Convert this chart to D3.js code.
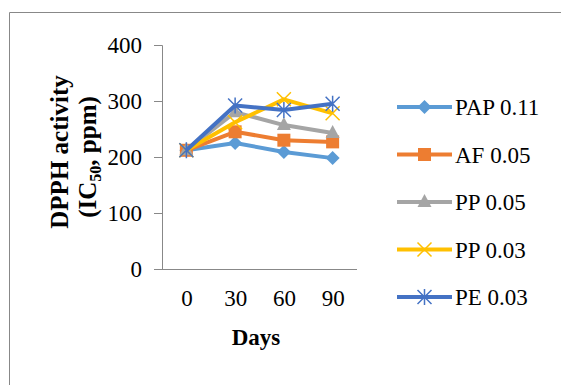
<!DOCTYPE html>
<html><head><meta charset="utf-8">
<script src="https://cdn.jsdelivr.net/npm/d3@7/dist/d3.min.js"></script>
<style>body{margin:0;background:#fff}svg{display:block}svg text{font-family:"Liberation Serif","Times New Roman",serif}</style>
</head><body>
<svg id="c" width="561" height="385"></svg>
<script>
const categories = ["0", "30", "60", "90"];
const yTicks = [0, 100, 200, 300, 400];
const seriesNames = ["PAP 0.11", "AF 0.05", "PP 0.05", "PP 0.03", "PE 0.03"];
const papValues = [212, 225, 209, 198];
const afValues = [212, 245, 230, 227];
const pp05Values = [212, 280, 257, 243];
const pp03Values = [212, 262, 303, 278];
const peValues = [212, 292, 284, 295];
const colors = ["#5B9BD5", "#ED7D31", "#A5A5A5", "#FFC000", "#4472C4"];
const markers = ["diamond", "square", "triangle", "x", "star"];

(function () {
const series = seriesNames.map((n, i) => ({name: n, values: [papValues, afValues, pp05Values, pp03Values, peValues][i], color: colors[i], marker: markers[i]}));

const svg = d3.select("#c");

// frame
svg.append("path").attr("d", "M9.5,385 L9.5,12.5 L561,12.5").attr("fill", "none").attr("stroke", "#888").attr("stroke-width", 1);

const pLeft = 162, pRight = 357, pTop = 45, pBottom = 269;
const x = d3.scalePoint().domain(categories).range([pLeft, pRight]).padding(0.5);
const y = d3.scaleLinear().domain([0, 400]).range([pBottom, pTop]);

const yAxis = svg.append("g").attr("transform", `translate(${pLeft},0)`)
  .call(d3.axisLeft(y).tickValues(yTicks).tickSize(8).tickPadding(12));
yAxis.attr("font-family", null);
yAxis.select(".domain").attr("stroke", "#888").attr("d", `M-8,${pTop}.5H0.5V${pBottom}.5`);
yAxis.selectAll(".tick line").attr("stroke", "#888");
yAxis.selectAll("text").attr("font-size", 23).attr("fill", "#000");

const xAxis = svg.append("g").attr("transform", `translate(0,${pBottom})`)
  .call(d3.axisBottom(x).tickSize(0).tickPadding(21));
xAxis.attr("font-family", null);
xAxis.select(".domain").attr("stroke", "#888").attr("d", `M${pLeft},0.5H${pRight}`);
xAxis.selectAll("text").attr("font-size", 23).attr("fill", "#000");

// axis titles
svg.append("text").attr("transform", "translate(68,152) rotate(-90)").attr("text-anchor", "middle")
  .attr("font-weight", "bold").attr("font-size", 25).text("DPPH activity");
const t2 = svg.append("text").attr("transform", "translate(96,157) rotate(-90)").attr("text-anchor", "middle")
  .attr("font-weight", "bold").attr("font-size", 25);
t2.append("tspan").text("(IC");
t2.append("tspan").attr("font-size", 16).attr("dy", 5).text("50");
t2.append("tspan").attr("dy", -5).text(", ppm)");
svg.append("text").attr("x", 256).attr("y", 345).attr("text-anchor", "middle")
  .attr("font-weight", "bold").attr("font-size", 23).text("Days");

function drawMarker(g, type, color, cx, cy) {
  if (type === "diamond") {
    g.append("path").attr("d", `M${cx},${cy-7}L${cx+7},${cy}L${cx},${cy+7}L${cx-7},${cy}Z`).attr("fill", color);
  } else if (type === "square") {
    g.append("rect").attr("x", cx-6.5).attr("y", cy-6.5).attr("width", 13).attr("height", 13).attr("fill", color);
  } else if (type === "triangle") {
    g.append("path").attr("d", `M${cx},${cy-8}L${cx+7},${cy+5}L${cx-7},${cy+5}Z`).attr("fill", color);
  } else if (type === "x") {
    g.append("path").attr("d", `M${cx-7},${cy-7}L${cx+7},${cy+7}M${cx+7},${cy-7}L${cx-7},${cy+7}`).attr("stroke", color).attr("stroke-width", 1.5);
  } else {
    g.append("path").attr("d", `M${cx-7},${cy-7}L${cx+7},${cy+7}M${cx+7},${cy-7}L${cx-7},${cy+7}M${cx},${cy-8}L${cx},${cy+8}`).attr("stroke", color).attr("stroke-width", 1.5);
  }
}

const line = d3.line().x((d, i) => x(categories[i])).y(d => y(d));
series.forEach(s => {
  const g = svg.append("g");
  g.append("path").attr("d", line(s.values)).attr("fill", "none").attr("stroke", s.color).attr("stroke-width", 4).attr("stroke-linejoin", "round");
  s.values.forEach((v, i) => drawMarker(g, s.marker, s.color, x(categories[i]), y(v)));
});

// legend
const legY = d3.scalePoint().domain(seriesNames).range([107, 297]);
series.forEach(s => {
  const g = svg.append("g");
  const ly = legY(s.name);
  g.append("line").attr("x1", 397).attr("x2", 452).attr("y1", ly).attr("y2", ly).attr("stroke", s.color).attr("stroke-width", 4);
  drawMarker(g, s.marker, s.color, 424.5, ly);
  g.append("text").attr("x", 455).attr("y", ly).attr("dy", "0.36em").attr("font-size", 23).text(s.name);
});
})();
</script>
</body></html>
